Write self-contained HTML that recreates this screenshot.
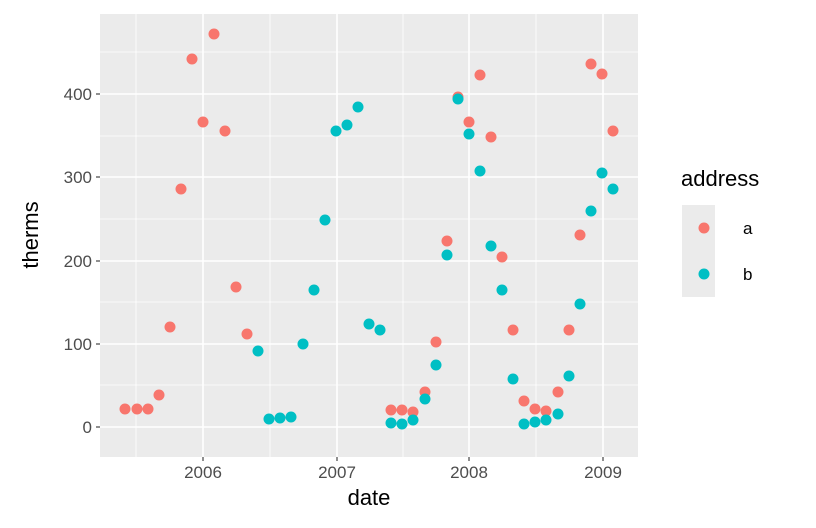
<!DOCTYPE html>
<html><head><style>body{margin:0;background:#fff}svg{display:block}</style></head><body>
<svg width="816" height="528" xmlns="http://www.w3.org/2000/svg" font-family="Liberation Sans, sans-serif">
<rect x="100" y="14" width="538" height="443" fill="#ebebeb"/>
<g stroke="#fff" stroke-width="0.8">
<line x1="100" x2="638" y1="385" y2="385"/><line x1="100" x2="638" y1="302" y2="302"/><line x1="100" x2="638" y1="219" y2="219"/><line x1="100" x2="638" y1="136" y2="136"/><line x1="100" x2="638" y1="52" y2="52"/>
<line y1="14" y2="457" x1="136" x2="136"/><line y1="14" y2="457" x1="270" x2="270"/><line y1="14" y2="457" x1="403" x2="403"/><line y1="14" y2="457" x1="536" x2="536"/>
</g>
<g stroke="#fff" stroke-width="1.6">
<line x1="100" x2="638" y1="427" y2="427"/><line x1="100" x2="638" y1="344" y2="344"/><line x1="100" x2="638" y1="261" y2="261"/><line x1="100" x2="638" y1="177" y2="177"/><line x1="100" x2="638" y1="94" y2="94"/>
<line y1="14" y2="457" x1="203" x2="203"/><line y1="14" y2="457" x1="337" x2="337"/><line y1="14" y2="457" x1="469" x2="469"/><line y1="14" y2="457" x1="603" x2="603"/>
</g>
<g stroke="#333" stroke-width="1.1">
<line x1="96" x2="100" y1="427" y2="427"/><line x1="96" x2="100" y1="344" y2="344"/><line x1="96" x2="100" y1="261" y2="261"/><line x1="96" x2="100" y1="177" y2="177"/><line x1="96" x2="100" y1="94" y2="94"/>
<line y1="457" y2="461" x1="203" x2="203"/><line y1="457" y2="461" x1="337" x2="337"/><line y1="457" y2="461" x1="469" x2="469"/><line y1="457" y2="461" x1="603" x2="603"/>
</g>
<g fill="#4d4d4d" font-size="17" text-anchor="end">
<text x="92" y="433">0</text><text x="92" y="350">100</text><text x="92" y="267">200</text><text x="92" y="183">300</text><text x="92" y="100">400</text>
</g>
<g fill="#4d4d4d" font-size="17" text-anchor="middle">
<text x="203" y="478">2006</text><text x="337" y="478">2007</text><text x="469" y="478">2008</text><text x="603" y="478">2009</text>
</g>
<text x="369" y="505" font-size="22" text-anchor="middle">date</text>
<text transform="translate(38,235) rotate(-90)" font-size="22" text-anchor="middle">therms</text>
<g fill="#F8766D">
<circle cx="125" cy="409" r="5.5"/><circle cx="137" cy="409" r="5.5"/><circle cx="148" cy="409" r="5.5"/><circle cx="159" cy="395" r="5.5"/><circle cx="170" cy="327" r="5.5"/><circle cx="181" cy="189" r="5.5"/><circle cx="192" cy="59" r="5.5"/><circle cx="203" cy="122" r="5.5"/><circle cx="214" cy="34" r="5.5"/><circle cx="225" cy="131" r="5.5"/><circle cx="236" cy="287" r="5.5"/><circle cx="247" cy="334" r="5.5"/>
<circle cx="391" cy="410" r="5.5"/><circle cx="402" cy="410" r="5.5"/><circle cx="413" cy="412" r="5.5"/><circle cx="425" cy="392" r="5.5"/><circle cx="436" cy="342" r="5.5"/><circle cx="447" cy="241" r="5.5"/><circle cx="458" cy="97" r="5.5"/><circle cx="469" cy="122" r="5.5"/><circle cx="480" cy="75" r="5.5"/><circle cx="491" cy="137" r="5.5"/><circle cx="502" cy="257" r="5.5"/><circle cx="513" cy="330" r="5.5"/><circle cx="524" cy="401" r="5.5"/><circle cx="535" cy="409" r="5.5"/><circle cx="546" cy="411" r="5.5"/><circle cx="558" cy="392" r="5.5"/><circle cx="569" cy="330" r="5.5"/><circle cx="580" cy="235" r="5.5"/><circle cx="591" cy="64" r="5.5"/><circle cx="602" cy="74" r="5.5"/><circle cx="613" cy="131" r="5.5"/>
</g>
<g fill="#00BFC4">
<circle cx="258" cy="351" r="5.5"/><circle cx="269" cy="419" r="5.5"/><circle cx="280" cy="418" r="5.5"/><circle cx="291" cy="417" r="5.5"/><circle cx="303" cy="344" r="5.5"/><circle cx="314" cy="290" r="5.5"/><circle cx="325" cy="220" r="5.5"/><circle cx="336" cy="131" r="5.5"/><circle cx="347" cy="125" r="5.5"/><circle cx="358" cy="107" r="5.5"/><circle cx="369" cy="324" r="5.5"/><circle cx="380" cy="330" r="5.5"/><circle cx="391" cy="423" r="5.5"/><circle cx="402" cy="424" r="5.5"/><circle cx="413" cy="420" r="5.5"/><circle cx="425" cy="399" r="5.5"/><circle cx="436" cy="365" r="5.5"/><circle cx="447" cy="255" r="5.5"/><circle cx="458" cy="99" r="5.5"/><circle cx="469" cy="134" r="5.5"/><circle cx="480" cy="171" r="5.5"/><circle cx="491" cy="246" r="5.5"/><circle cx="502" cy="290" r="5.5"/><circle cx="513" cy="379" r="5.5"/><circle cx="524" cy="424" r="5.5"/><circle cx="535" cy="422" r="5.5"/><circle cx="546" cy="420" r="5.5"/><circle cx="558" cy="414" r="5.5"/><circle cx="569" cy="376" r="5.5"/><circle cx="580" cy="304" r="5.5"/><circle cx="591" cy="211" r="5.5"/><circle cx="602" cy="173" r="5.5"/><circle cx="613" cy="189" r="5.5"/>
</g>
<text x="681" y="186" font-size="22">address</text>
<rect x="682" y="205" width="33" height="46" fill="#ebebeb"/>
<rect x="682" y="251" width="33" height="46" fill="#ebebeb"/>
<circle cx="704" cy="228" r="5.5" fill="#F8766D"/>
<circle cx="704" cy="274" r="5.5" fill="#00BFC4"/>
<text x="743" y="234" font-size="17">a</text>
<text x="743" y="280" font-size="17">b</text>
</svg>
</body></html>
